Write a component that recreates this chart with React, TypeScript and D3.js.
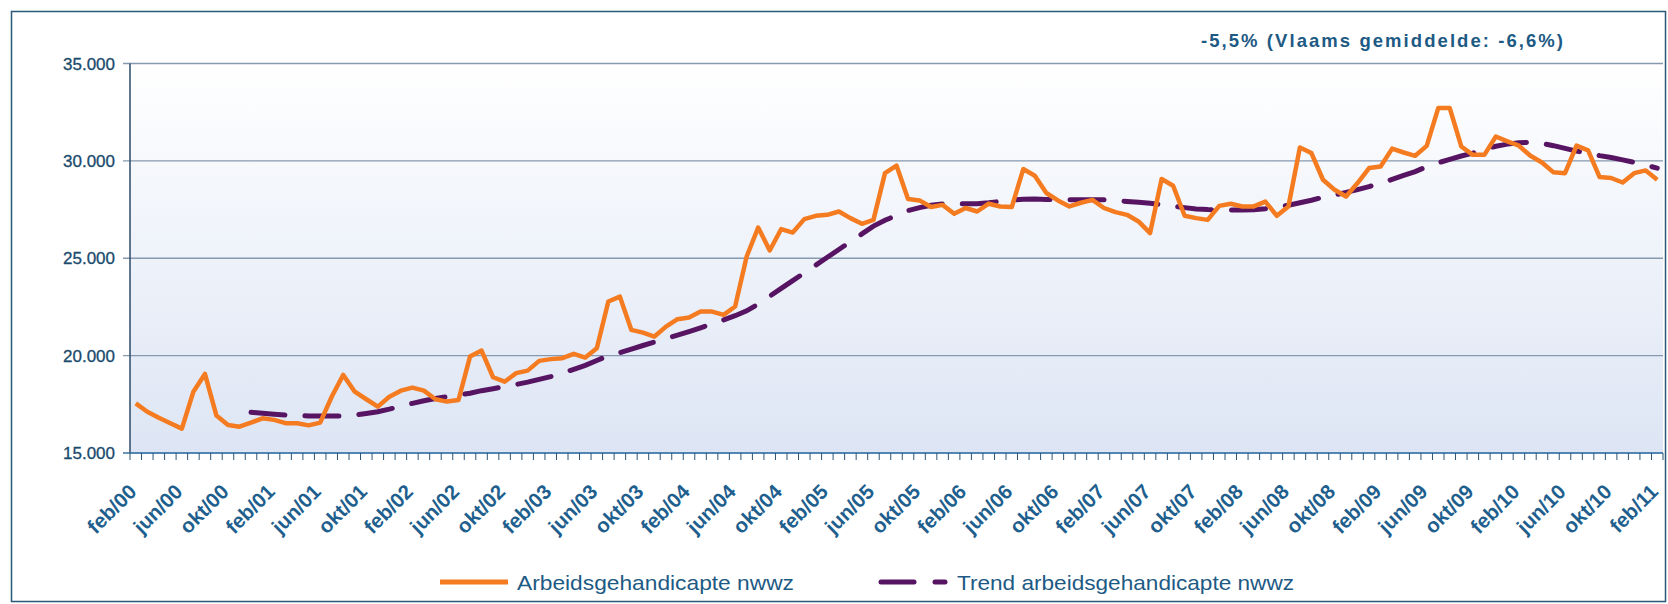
import React, { useEffect } from 'react';
import * as d3 from 'd3';

// ---------- data ----------
const monthNames = ['jan', 'feb', 'mrt', 'apr', 'mei', 'jun', 'jul', 'aug', 'sep', 'okt', 'nov', 'dec'];
const startYear = 2000;
const startMonth = 1; // feb
const nMonths = 133; // feb/00 .. feb/11
const categories: string[] = d3.range(nMonths).map((i) => {
  const m = (startMonth + i) % 12;
  const y = startYear + Math.floor((startMonth + i) / 12);
  return `${monthNames[m]}/${String(y % 100).padStart(2, '0')}`;
});

const arbeidsgehandicapte: number[] = [
  17550, 17120, 16810, 16530, 16250, 18150, 19060, 16920, 16440, 16350, 16560, 16780,
  16700, 16530, 16530, 16420, 16560, 17890, 19010, 18150, 17760, 17380, 17890, 18200,
  18360, 18200, 17760, 17640, 17720, 19950, 20260, 18890, 18660, 19100, 19230, 19730,
  19820, 19870, 20090, 19900, 20380, 22780, 23030, 21320, 21180, 20980, 21490, 21870,
  21960, 22260, 22260, 22090, 22520, 25090, 26580, 25400, 26500, 26320, 27010, 27180,
  27230, 27400, 27060, 26770, 26970, 29370, 29760, 28040, 27970, 27630, 27740, 27280,
  27580, 27400, 27800, 27660, 27630, 29580, 29240, 28350, 27970, 27660, 27850, 28000,
  27580, 27370, 27230, 26890, 26290, 29070, 28720, 27180, 27060, 26970, 27690, 27800,
  27660, 27660, 27910, 27180, 27660, 30690, 30400, 29030, 28520, 28170, 28860, 29630,
  29710, 30630, 30430, 30260, 30770, 32710, 32710, 30740, 30310, 30310, 31250, 31000,
  30780, 30260, 29920, 29410, 29370, 30780, 30540, 29170, 29120, 28890, 29370, 29510,
  29030,
];

const trend: (number | null)[] = [
  null, null, null, null, null, null, null, null, null, null, 17090, 17040,
  16990, 16950, 16920, 16900, 16900, 16900, 16900, 16950, 17030, 17120, 17250, 17400,
  17550, 17680, 17800, 17890, 17980, 18070, 18200, 18300, 18410, 18520, 18640, 18780,
  18920, 19100, 19300, 19500, 19750, 20000, 20150, 20330, 20520, 20700, 20880, 21050,
  21235, 21430, 21630, 21835, 22050, 22300, 22650, 23050, 23450, 23850, 24250, 24650,
  25050, 25450, 25850, 26250, 26650, 26950, 27200, 27450, 27600, 27720, 27790, 27800,
  27800, 27800, 27850, 27920, 27980, 28030, 28040, 28020, 28000, 28000, 28000, 28000,
  28000, 27960, 27920, 27880, 27820, 27750, 27680, 27600, 27530, 27500, 27490, 27480,
  27480, 27490, 27540, 27620, 27720, 27850, 27980, 28130, 28250, 28380, 28520, 28680,
  28850, 29050, 29250, 29450, 29700, 29900, 30080, 30250, 30400, 30600, 30750, 30860,
  30930, 30950, 30900, 30780, 30640, 30500, 30400, 30270, 30170, 30050, 29920, 29780,
  29630,
];

const yTicks = [15000, 20000, 25000, 30000, 35000];
const annotation = '-5,5% (Vlaams gemiddelde:  -6,6%)';
const seriesNames = ['Arbeidsgehandicapte nwwz', 'Trend arbeidsgehandicapte nwwz'];

// ---------- layout ----------
const W = 1668;
const H = 604;
const plot = { left: 130, right: 1663, top: 63.5, bottom: 453 };
const ORANGE = '#f47b20';
const PURPLE = '#561462';
const TEXT = '#1d5a84';

const nl = d3.formatLocale({ decimal: ',', thousands: '.', grouping: [3], currency: ['', ''] });
const fmt = nl.format(',.0f');

export default function App() {
  useEffect(() => {
    document.body.style.margin = '0';
  }, []);

  const x = d3
    .scaleBand<number>()
    .domain(d3.range(nMonths))
    .range([plot.left, plot.right])
    .paddingInner(0)
    .paddingOuter(0);
  const cx = (i: number) => (x(i) as number) + x.bandwidth() / 2;
  const y = d3.scaleLinear().domain([15000, 35000]).range([plot.bottom, plot.top]);

  const line = d3
    .line<number | null>()
    .defined((d) => d != null)
    .x((_, i) => cx(i))
    .y((d) => y(d as number));

  const tickXs = d3.range(nMonths + 1).map((i) => plot.left + i * x.bandwidth());

  return (
    <svg width={W} height={H} style={{ display: 'block', position: 'absolute', left: 0, top: 0 }}
      fontFamily="'Liberation Sans', Arial, sans-serif">
      <defs>
        <linearGradient id="bg" x1="0" y1="0" x2="0" y2="1">
          <stop offset="0" stopColor="#ffffff" />
          <stop offset="1" stopColor="#dde5f4" />
        </linearGradient>
      </defs>
      <rect x={0} y={0} width={W} height={H} fill="#ffffff" />
      <rect x={11.5} y={11.5} width={1654} height={590} fill="#ffffff" stroke="#2b5877" strokeWidth={1.5} />
      <rect x={plot.left} y={plot.top} width={plot.right - plot.left} height={plot.bottom - plot.top} fill="url(#bg)" />

      {/* gridlines */}
      {yTicks.map((t) => (
        <line key={t} x1={plot.left - 7} x2={plot.right} y1={y(t)} y2={y(t)}
          stroke={t === 15000 ? '#3f6f98' : '#8799ae'} strokeWidth={1.4} />
      ))}
      {/* y axis */}
      <line x1={plot.left} x2={plot.left} y1={plot.top} y2={plot.bottom} stroke="#2c4a68" strokeWidth={1.5} />
      {yTicks.map((t) => (
        <text key={t} x={115} y={y(t)} dy="0.36em" textAnchor="end" fontSize={17} fill="#1a4a6c"
          stroke="#1a4a6c" strokeWidth={0.3}>
          {fmt(t)}
        </text>
      ))}

      {/* x axis ticks */}
      <line x1={plot.left} x2={plot.right} y1={plot.bottom} y2={plot.bottom} stroke="#4a84b4" strokeWidth={1.6} />
      {tickXs.map((tx, i) => (
        <line key={i} x1={tx} x2={tx} y1={plot.bottom} y2={plot.bottom + 7} stroke="#2f5575" strokeWidth={1} />
      ))}
      {categories.map((c, i) =>
        i % 4 === 0 ? (
          <text key={c} transform={`translate(${cx(i) + 2},${493}) rotate(-45)`} textAnchor="end"
            fontSize={20.5} fontWeight="bold" fill="#1f5f8e">
            {c}
          </text>
        ) : null
      )}

      {/* series */}
      <path d={line(trend) || ''} fill="none" stroke={PURPLE} strokeWidth={5} strokeDasharray="34 20"
        strokeLinecap="round" />
      <path d={line(arbeidsgehandicapte) || ''} fill="none" stroke={ORANGE} strokeWidth={4.5}
        strokeLinejoin="round" />

      {/* annotation */}
      <text x={1563} y={47} textAnchor="end" fontSize={18.5} fontWeight="bold" fill={TEXT}
        textLength={362} lengthAdjust="spacing">
        {annotation}
      </text>

      {/* legend */}
      <line x1={440} x2={508} y1={582} y2={582} stroke={ORANGE} strokeWidth={5} />
      <text x={517} y={582} dy="0.36em" fontSize={21} fill={TEXT} textLength={277} lengthAdjust="spacingAndGlyphs">
        {seriesNames[0]}
      </text>
      <line x1={881} x2={945} y1={582} y2={582} stroke={PURPLE} strokeWidth={5} strokeDasharray="33 21"
        strokeLinecap="round" />
      <text x={957} y={582} dy="0.36em" fontSize={21} fill={TEXT} textLength={337} lengthAdjust="spacingAndGlyphs">
        {seriesNames[1]}
      </text>
    </svg>
  );
}
